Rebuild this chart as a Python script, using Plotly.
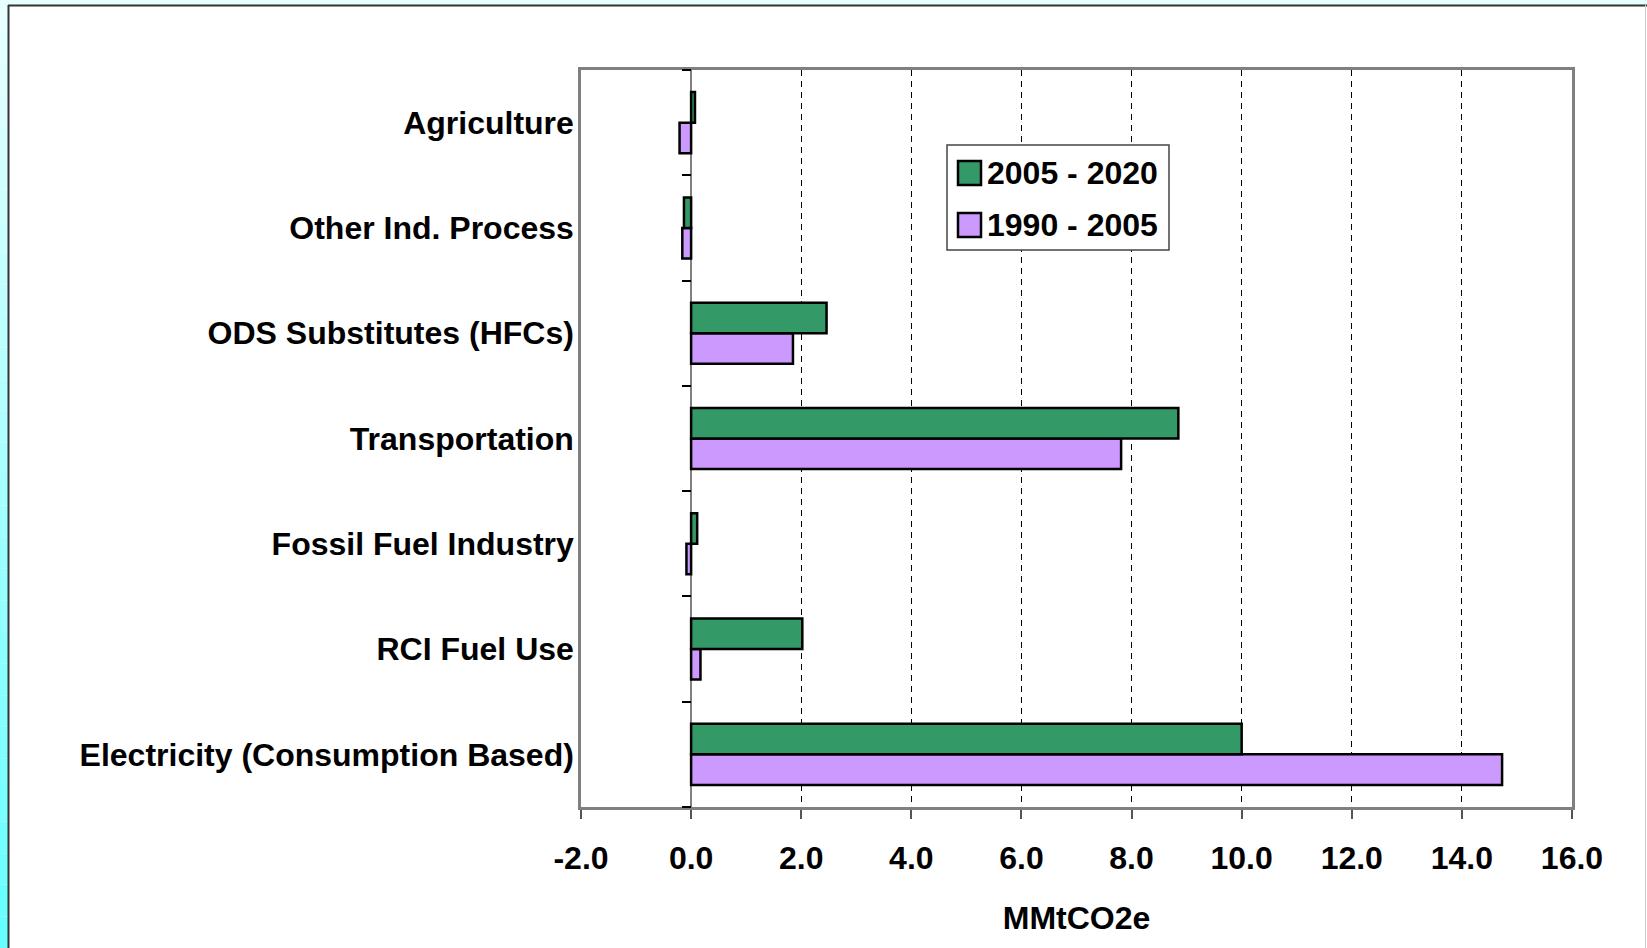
import plotly.graph_objects as go

categories = ["Electricity (Consumption Based)", "RCI Fuel Use", "Fossil Fuel Industry",
              "Transportation", "ODS Substitutes (HFCs)", "Other Ind. Process", "Agriculture"]
series_2005_2020 = [10.0, 2.02, 0.11, 8.85, 2.46, -0.13, 0.07]
series_1990_2005 = [14.73, 0.17, -0.085, 7.81, 1.85, -0.16, -0.21]
name_a = "2005 - 2020"
name_b = "1990 - 2005"
x_ticks = [-2, 0, 2, 4, 6, 8, 10, 12, 14, 16]

GREEN = "#339966"
PURPLE = "#CC99FF"
FONT = "Liberation Sans"
FS = 32

W, H = 1647, 948
L, R, T, B = 581, 1572, 70, 807


def px(x):
    return (x - L) / (R - L)


def py(y):
    return (B - y) / (B - T)


fig = go.Figure()
fig.add_trace(go.Bar(y=categories, x=series_1990_2005, orientation="h", name=name_b,
                     marker=dict(color=PURPLE, line=dict(color="black", width=2.5)),
                     showlegend=False, hoverinfo="x+name"))
fig.add_trace(go.Bar(y=categories, x=series_2005_2020, orientation="h", name=name_a,
                     marker=dict(color=GREEN, line=dict(color="black", width=2.5)),
                     showlegend=False, hoverinfo="x+name"))
# invisible trace to carry the category tick axis at x = 0
fig.add_trace(go.Scatter(y=categories, x=[0] * len(categories), yaxis="y2", mode="markers",
                         marker=dict(opacity=0), showlegend=False, hoverinfo="skip"))

shapes = []
# background strips (cyan gradient on left, light on top)
shapes.append(dict(type="rect", xref="paper", yref="paper", x0=px(0), x1=px(W), y0=py(0), y1=py(6),
                   fillcolor="#E8FFFF", line=dict(width=0), layer="below"))
N = 30
for i in range(N):
    t = i / (N - 1)
    g = int(round(232 + (102 - 232) * t))
    col = f"rgb({g},255,255)"
    shapes.append(dict(type="rect", xref="paper", yref="paper", x0=px(0), x1=px(8),
                       y0=py(H * i / N), y1=py(H * (i + 1) / N), fillcolor=col,
                       line=dict(width=0), layer="below"))
# frame lines
shapes.append(dict(type="line", xref="paper", yref="paper", x0=px(8), x1=px(W), y0=py(5.5), y1=py(5.5),
                   line=dict(color="#333333", width=2)))
shapes.append(dict(type="line", xref="paper", yref="paper", x0=px(8.5), x1=px(8.5), y0=py(5), y1=py(H),
                   line=dict(color="#333333", width=2)))
shapes.append(dict(type="line", xref="paper", yref="paper", x0=px(1645.5), x1=px(1645.5), y0=py(5), y1=py(H),
                   line=dict(color="#CCCCCC", width=1)))
# legend box
shapes.append(dict(type="rect", xref="paper", yref="paper", x0=px(947), x1=px(1169), y0=py(250), y1=py(145),
                   fillcolor="white", line=dict(color="#444444", width=1.5)))
shapes.append(dict(type="rect", xref="paper", yref="paper", x0=px(958), x1=px(981), y0=py(185), y1=py(161),
                   fillcolor=GREEN, line=dict(color="black", width=2.5)))
shapes.append(dict(type="rect", xref="paper", yref="paper", x0=px(958), x1=px(981), y0=py(237), y1=py(213),
                   fillcolor=PURPLE, line=dict(color="black", width=2.5)))

annotations = [
    dict(text=name_a, xref="paper", yref="paper", x=px(985), y=py(173), xanchor="left", yanchor="middle",
         showarrow=False, font=dict(family=FONT, size=FS, color="black", weight="bold")),
    dict(text=name_b, xref="paper", yref="paper", x=px(985), y=py(225), xanchor="left", yanchor="middle",
         showarrow=False, font=dict(family=FONT, size=FS, color="black", weight="bold")),
]

fig.update_layout(
    width=W, height=H,
    margin=dict(l=L, r=W - R, t=T, b=H - B, pad=0),
    paper_bgcolor="white", plot_bgcolor="white",
    barmode="group", bargap=0.42, bargroupgap=0,
    font=dict(family=FONT, size=FS, color="black"),
    shapes=shapes, annotations=annotations,
    xaxis=dict(range=[-2, 16], tickvals=x_ticks, ticktext=[f"{v:.1f}" for v in x_ticks],
               tickfont=dict(family=FONT, size=FS, color="black", weight="bold"),
               ticks="outside", ticklen=9, tickcolor="#555555", tickwidth=1.5,
               ticklabelstandoff=12,
               showline=True, linecolor="#808080", linewidth=2.5, mirror=True,
               showgrid=True, gridcolor="black", gridwidth=1, griddash="6px,5px",
               zeroline=True, zerolinecolor="#808080", zerolinewidth=1.5,
               title=dict(text="MMtCO2e", standoff=32,
                          font=dict(family=FONT, size=FS, color="black", weight="bold")),
               fixedrange=True),
    yaxis=dict(type="category", categoryarray=categories, range=[-0.5, 6.5],
               tickfont=dict(family=FONT, size=FS, color="black", weight="bold"),
               ticks="", ticklabelstandoff=-2,
               showline=True, linecolor="#808080", linewidth=2.5, mirror=True,
               showgrid=False, zeroline=False, fixedrange=True),
    yaxis2=dict(type="category", categoryarray=categories, range=[-0.5, 6.5],
                overlaying="y", anchor="free", position=2 / 18,
                side="left", showticklabels=False, ticks="outside", ticklen=9, tickcolor="black",
                tickwidth=1.5, tickson="boundaries", showline=False, showgrid=False, zeroline=False,
                fixedrange=True),
)

fig.write_html("out.html", config={"displayModeBar": False},
               post_script="document.body.style.margin='0';")
